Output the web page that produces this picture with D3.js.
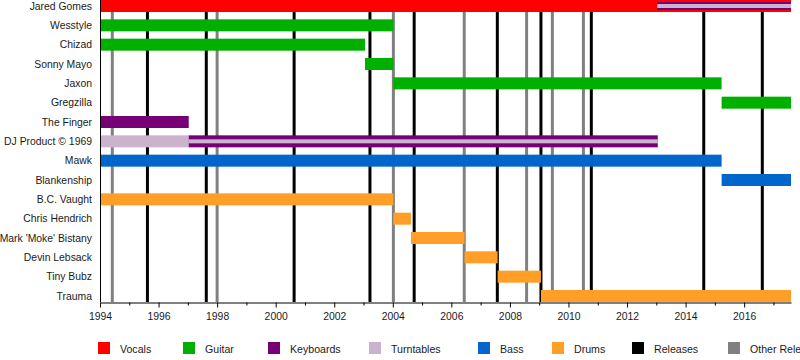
<!DOCTYPE html>
<html>
<head>
<meta charset="utf-8">
<script src="https://cdn.jsdelivr.net/npm/d3@7"></script>
<style>
  html, body { margin: 0; padding: 0; background: #fff; }
  svg { display: block; font-family: "Liberation Sans", Arial, Helvetica, sans-serif; }
</style>
</head>
<body>
<svg id="chart" width="800" height="360"></svg>
<script>
// ---------- DATA ----------
const START = 1994;
const END = 2017.6;

const members = [
  "Jared Gomes", "Wesstyle", "Chizad", "Sonny Mayo", "Jaxon", "Gregzilla",
  "The Finger", "DJ Product \u00A9 1969", "Mawk", "Blankenship", "B.C. Vaught",
  "Chris Hendrich", "Mark 'Moke' Bistany", "Devin Lebsack", "Tiny Bubz", "Trauma"
];

const roles = ["Vocals", "Guitar", "Keyboards", "Turntables", "Bass", "Drums", "Releases", "Other Releases"];
const roleColors = ["#ff0000", "#00b000", "#770077", "#cbb2cd", "#0066cc", "#ff9f27", "#000000", "#808080"];

// [member, role, start, end, tier]  (tier: 0 = main role, 1 = second, 2 = third)
const spans = [
  ["Jared Gomes", "Vocals", 1994, END, 0],
  ["Jared Gomes", "Keyboards", 2013.03, END, 1],
  ["Jared Gomes", "Turntables", 2013.03, END, 2],
  ["Wesstyle", "Guitar", 1994, 2004.02, 0],
  ["Chizad", "Guitar", 1994, 2003.05, 0],
  ["Sonny Mayo", "Guitar", 2003.05, 2004.02, 0],
  ["Jaxon", "Guitar", 2004.02, 2015.23, 0],
  ["Gregzilla", "Guitar", 2015.23, END, 0],
  ["The Finger", "Keyboards", 1994, 1997.03, 0],
  ["DJ Product \u00A9 1969", "Turntables", 1994, 1997.03, 0],
  ["DJ Product \u00A9 1969", "Keyboards", 1997.03, 2013.05, 0],
  ["DJ Product \u00A9 1969", "Turntables", 1997.03, 2013.05, 2],
  ["Mawk", "Bass", 1994, 2015.23, 0],
  ["Blankenship", "Bass", 2015.23, END, 0],
  ["B.C. Vaught", "Drums", 1994, 2004.02, 0],
  ["Chris Hendrich", "Drums", 2004.02, 2004.62, 0],
  ["Mark 'Moke' Bistany", "Drums", 2004.62, 2006.45, 0],
  ["Devin Lebsack", "Drums", 2006.45, 2007.58, 0],
  ["Tiny Bubz", "Drums", 2007.58, 2009.06, 0],
  ["Trauma", "Drums", 2009.06, END, 0]
];

const releases = [1995.62, 1997.63, 2000.63, 2003.22, 2004.73, 2007.57, 2009.06, 2010.78, 2014.62, 2016.62];
const otherReleases = [1994.42, 1998.0, 2004.02, 2006.44, 2008.57, 2009.45, 2010.51];

const majorTicks = [1994, 1996, 1998, 2000, 2002, 2004, 2006, 2008, 2010, 2012, 2014, 2016];
const minorTicks = [1995, 1997, 1999, 2001, 2003, 2005, 2007, 2009, 2011, 2013, 2015, 2017];

// ---------- LAYOUT ----------
const plotLeft = 100, plotRight = 791, plotTop = 0, plotBottom = 302;
const legendX = [98, 183, 268, 369, 478, 552, 632, 728];
const legendY = 342;

const svg = d3.select("#chart");
const color = d3.scaleOrdinal().domain(roles).range(roleColors);

const x = d3.scaleLinear().domain([START, END]).range([plotLeft, plotRight]);
const y = d3.scaleBand().domain(members).range([plotTop, plotBottom])
  .paddingInner(0.379).paddingOuter(0);
const bw = y.bandwidth();

// release lines (behind bars)
const lines = svg.append("g");
lines.selectAll("line.other").data(otherReleases).join("line")
  .attr("class", "other")
  .attr("x1", d => x(d)).attr("x2", d => x(d))
  .attr("y1", plotTop).attr("y2", plotBottom)
  .attr("stroke", color("Other Releases")).attr("stroke-width", 3);
lines.selectAll("line.rel").data(releases).join("line")
  .attr("class", "rel")
  .attr("x1", d => x(d)).attr("x2", d => x(d))
  .attr("y1", plotTop).attr("y2", plotBottom)
  .attr("stroke", color("Releases")).attr("stroke-width", 3);

// bars
const bars = svg.append("g");
bars.selectAll("rect").data(spans).join("rect")
  .attr("x", d => x(d[2]))
  .attr("width", d => x(d[3]) - x(d[2]))
  .attr("y", d => y(d[0]) + bw * d[4] / 6)
  .attr("height", d => bw * (1 - d[4] / 3))
  .attr("fill", d => color(d[1]));

// left axis line
svg.append("line")
  .attr("x1", plotLeft + 0.5).attr("x2", plotLeft + 0.5)
  .attr("y1", plotTop).attr("y2", plotBottom)
  .attr("stroke", "#000").attr("stroke-width", 1);

// member labels
svg.append("g").selectAll("text").data(members).join("text")
  .attr("x", plotLeft - 8)
  .attr("y", d => y(d) + bw / 2)
  .attr("dy", "0.35em")
  .attr("text-anchor", "end")
  .attr("font-size", 10.4)
  .attr("fill", "#1a1a1a")
  .text(d => d);

// bottom axis
const gx = svg.append("g").attr("transform", `translate(0,${plotBottom + 0.5})`);
gx.call(d3.axisBottom(x).tickValues(majorTicks).tickFormat(d3.format("d")).tickSize(5).tickSizeOuter(0));
gx.select(".domain").attr("stroke", "#000");
gx.selectAll(".tick line").attr("stroke", "#000");
gx.selectAll(".tick text").attr("font-size", 10.4).attr("font-family", "Liberation Sans, Arial, sans-serif")
  .attr("fill", "#1a1a1a").attr("y", 10);

const gm = svg.append("g").attr("transform", `translate(0,${plotBottom + 0.5})`);
gm.call(d3.axisBottom(x).tickValues(minorTicks).tickFormat("").tickSize(3).tickSizeOuter(0));
gm.select(".domain").remove();
gm.selectAll(".tick line").attr("stroke", "#000");

// legend
const lg = svg.append("g");
const items = lg.selectAll("g").data(roles).join("g")
  .attr("transform", (d, i) => `translate(${legendX[i]},${legendY})`);
items.append("rect").attr("width", 12).attr("height", 12).attr("fill", d => color(d));
items.append("text").attr("x", 22).attr("y", 7).attr("dy", "0.35em")
  .attr("font-size", 10.6).attr("fill", "#1a1a1a").text(d => d);
</script>
</body>
</html>
